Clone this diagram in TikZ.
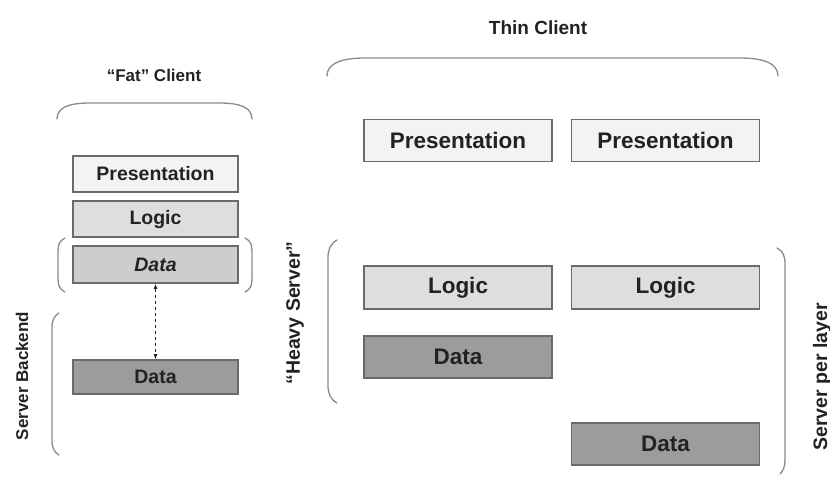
\documentclass[tikz,border=0pt]{standalone}
\usepackage{fontspec}
\setmainfont{Liberation Sans}
\usetikzlibrary{arrows.meta}
\definecolor{boxedge}{HTML}{6A6A6A}
\definecolor{presfill}{HTML}{F3F3F3}
\definecolor{logicfill}{HTML}{DEDEDE}
\definecolor{localdata}{HTML}{CDCDCD}
\definecolor{serverdata}{HTML}{9C9C9C}
\definecolor{bracegray}{HTML}{8A8A8A}
\definecolor{inkgray}{HTML}{222222}
\tikzset{
  layer/.style={draw=boxedge, line width=1.8pt, text=inkgray, font=\bfseries, inner sep=0pt},
  fatlayer/.style={layer, minimum width=165pt, font=\bfseries\fontsize{19.5}{22}\selectfont},
  thinlayer/.style={layer, minimum width=188pt, minimum height=42pt, font=\bfseries\fontsize{22.5}{26}\selectfont},
  caption/.style={text=inkgray, font=\bfseries\fontsize{#1}{#1}\selectfont, inner sep=0pt},
  grouping/.style={draw=bracegray, line width=1.3pt, line cap=round},
  link/.style={draw=inkgray, line width=0.8pt, dashed, {Latex[length=5pt,width=4pt]}-{Latex[length=5pt,width=4pt]}}
}
\begin{document}
\begin{tikzpicture}[x=1pt, y=-1pt]
\useasboundingbox (0,0) rectangle (830,477);

% ---- fat client column ----
\node[caption=17] (fatlbl) at (154,75) {“Fat” Client};
\draw[grouping] (57,119) .. controls (57,107) and (70,103) .. (90,103) -- (219,103)
  .. controls (239,103) and (252,107) .. (252,119);

\node[fatlayer, fill=presfill, minimum height=36pt] (fpres) at (155.5,174) {Presentation};
\node[fatlayer, fill=logicfill, minimum height=36pt] (flogic) at (155.5,219) {Logic};
\node[fatlayer, fill=localdata, minimum height=37pt] (fdata) at (155.5,264.5) {\itshape Data};

% parentheses around the local data layer
\draw[grouping] (65,238) .. controls (59,241) and (58,245) .. (58,252) -- (58,278)
  .. controls (58,285) and (59,289) .. (65,292);
\draw[grouping] (245,238) .. controls (251,241) and (252,245) .. (252,252) -- (252,278)
  .. controls (252,285) and (251,289) .. (245,292);

\node[fatlayer, fill=serverdata, minimum height=34pt] (bdata) at (155.5,377) {Data};
\draw[link] (fdata.south) -- (bdata.north);

% server backend bracket and label
\draw[grouping] (59,313) .. controls (54,316) and (52,320) .. (52,328) -- (52,440)
  .. controls (52,448) and (54,452) .. (59,455);
\node[caption=17, rotate=90] (backlbl) at (22,376) {Server Backend};

% ---- thin client columns ----
\node[caption=19] (thinlbl) at (538,28) {Thin Client};
\draw[grouping] (327,76) .. controls (327,63) and (342,58) .. (365,58) -- (740,58)
  .. controls (763,58) and (778,63) .. (778,76);

\node[thinlayer, fill=presfill] (pres1) at (458,140.5) {Presentation};
\node[thinlayer, fill=presfill] (pres2) at (665.5,140.5) {Presentation};
\node[thinlayer, fill=logicfill, minimum height=43pt] (logic1) at (458,287.5) {Logic};
\node[thinlayer, fill=logicfill, minimum height=43pt] (logic2) at (665.5,287.5) {Logic};
\node[thinlayer, fill=serverdata] (data1) at (458,357) {Data};
\node[thinlayer, fill=serverdata] (data2) at (665.5,444) {Data};

% heavy server bracket and label
\draw[grouping] (337,240) .. controls (330,244) and (328,250) .. (328,258) -- (328,385)
  .. controls (328,393) and (330,399) .. (337,403);
\node[caption=19.5, rotate=90] (heavylbl) at (295,313) {“Heavy Server”};

% server per layer bracket and label
\draw[grouping] (777,248) .. controls (783,251) and (785,256) .. (785,264) -- (785,460)
  .. controls (785,467) and (783,471) .. (780,474);
\node[caption=19.5, rotate=90] (perlbl) at (822,377) {Server per layer};
\end{tikzpicture}
\end{document}
